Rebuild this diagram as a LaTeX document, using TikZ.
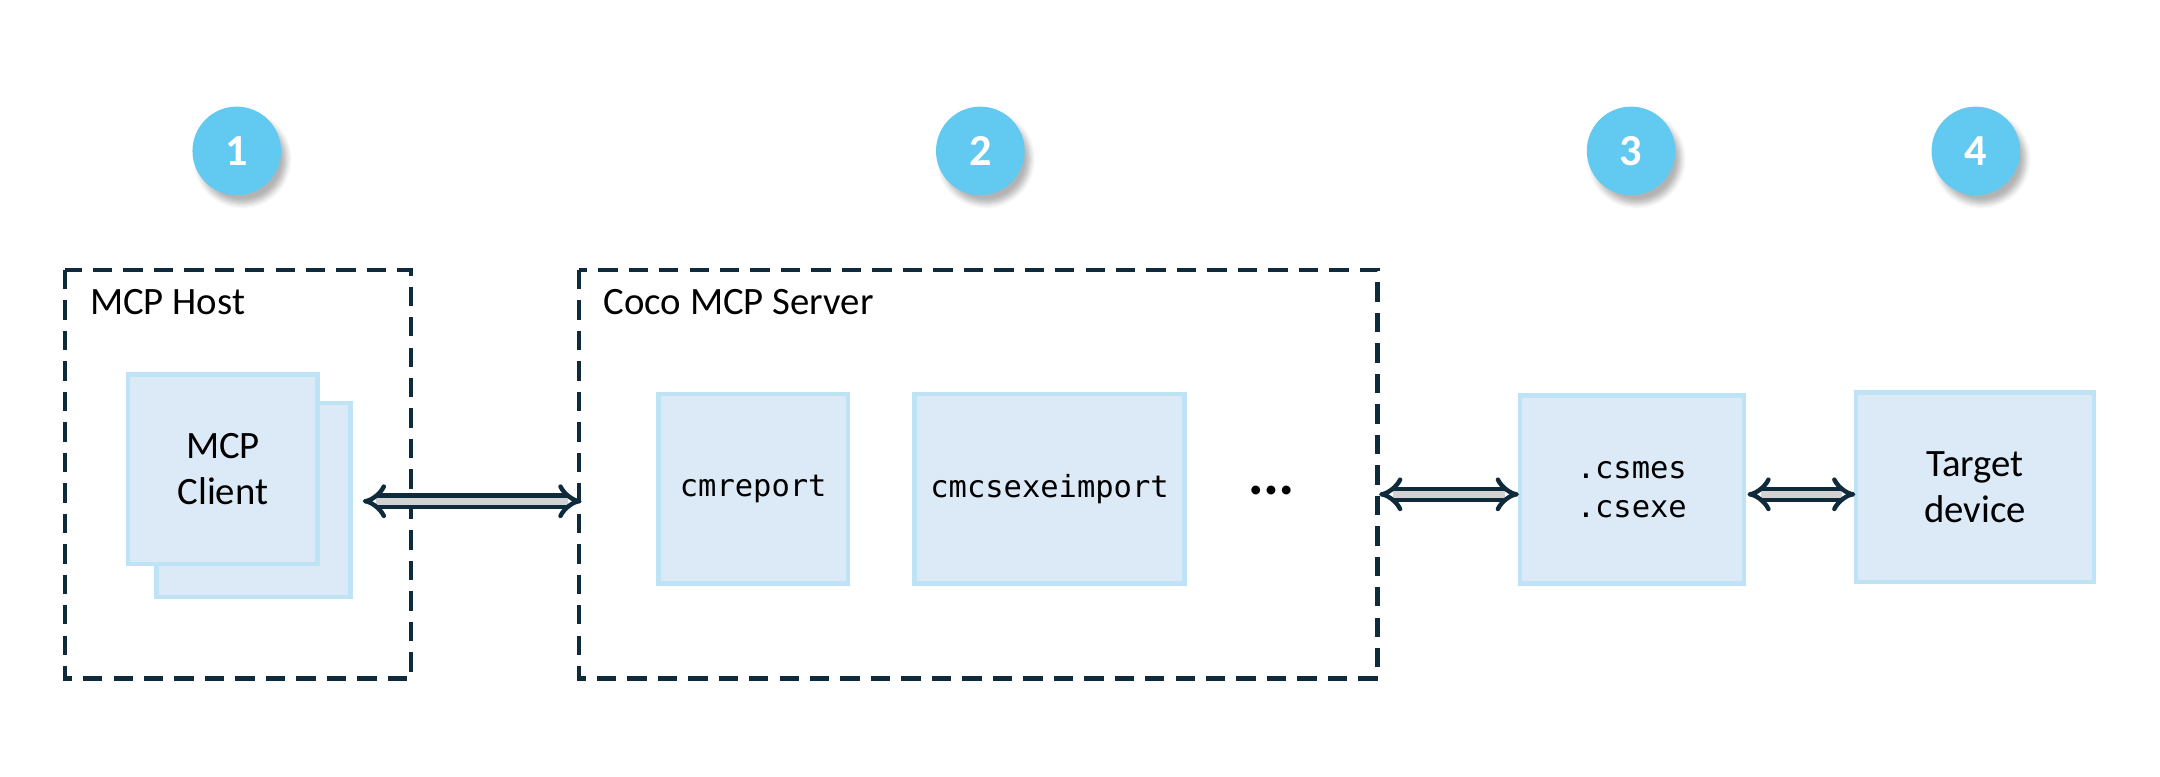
\documentclass[tikz,border=0pt]{standalone}
\usepackage{fontspec}
\setmainfont{Carlito}
\newfontfamily\monof{DejaVu Sans Mono}
\usetikzlibrary{arrows.meta,shadows.blur}
\definecolor{dash}{HTML}{0F2A3A}
\definecolor{boxfill}{HTML}{DCE9F6}
\definecolor{boxedge}{HTML}{BEE3F5}
\definecolor{bub}{HTML}{62C9F1}
\begin{document}
\begin{tikzpicture}[x=0.5pt,y=-0.5pt,
  grp/.style={draw=dash,line width=1.6pt,dash pattern=on 7pt off 4pt},
  blk/.style={draw=boxedge,fill=boxfill,line width=1.6pt,inner sep=0pt},
  bubble/.style={circle,fill=bub,minimum size=32pt,text=white,font=\bfseries\fontsize{16}{16}\selectfont,blur shadow={shadow opacity=30,shadow xshift=2pt,shadow yshift=-3pt,shadow blur steps=6}},
  lbl/.style={font=\fontsize{14}{16.5}\selectfont,align=center},
  mono/.style={font=\monof\fontsize{11}{14}\selectfont,align=center},
  dbl/.style={double=gray!35,double distance=2.4pt,line width=1.6pt,draw=dash,{Implies[scale=1.25]}-{Implies[scale=1.25]}}]
\useasboundingbox (0,0) rectangle (1560,561);
\node[bubble] (b1) at (171,109) {1};
\node[bubble] (b2) at (708,109) {2};
\node[bubble] (b3) at (1178,109) {3};
\node[bubble] (b4) at (1427,109) {4};
\draw[grp] (47,195) rectangle (297,490);
\node[lbl,anchor=west] (host) at (58,218) {MCP Host};
\draw[blk] (113,291) rectangle (253,431);
\node[blk,minimum width=68.4pt,minimum height=68.4pt,lbl] (client) at (161,339) {MCP\\Client};
\draw[grp] (418,195) rectangle (995,490);
\node[lbl,anchor=west] (srv) at (429,218) {Coco MCP Server};
\node[blk,mono,minimum width=68.4pt,minimum height=68.4pt] (cmr) at (544,353) {cmreport};
\node[blk,mono,minimum width=97.4pt,minimum height=68.4pt] (cmc) at (758,353) {cmcsexeimport};
\node[font=\fontsize{9}{9}\selectfont] (dots) at (918,355) {\textbullet\kern1pt\textbullet\kern1pt\textbullet};
\node[blk,mono,minimum width=80.9pt,minimum height=67.9pt] (cs) at (1178.5,353.5) {.csmes\\.csexe};
\node[blk,lbl,minimum width=85.9pt,minimum height=68.4pt] (tgt) at (1426.5,352) {Target\\device};
\coordinate (a1l) at (262,362);
\coordinate (a1r) at (420,362);
\coordinate (a2l) at (996,357);
\coordinate (a2r) at (1097,357);
\coordinate (a3l) at (1262,357);
\coordinate (a3r) at (1340,357);
\draw[dbl] (a1l) -- (a1r);
\draw[dbl] (a2l) -- (a2r);
\draw[dbl] (a3l) -- (a3r);
\end{tikzpicture}
\end{document}
